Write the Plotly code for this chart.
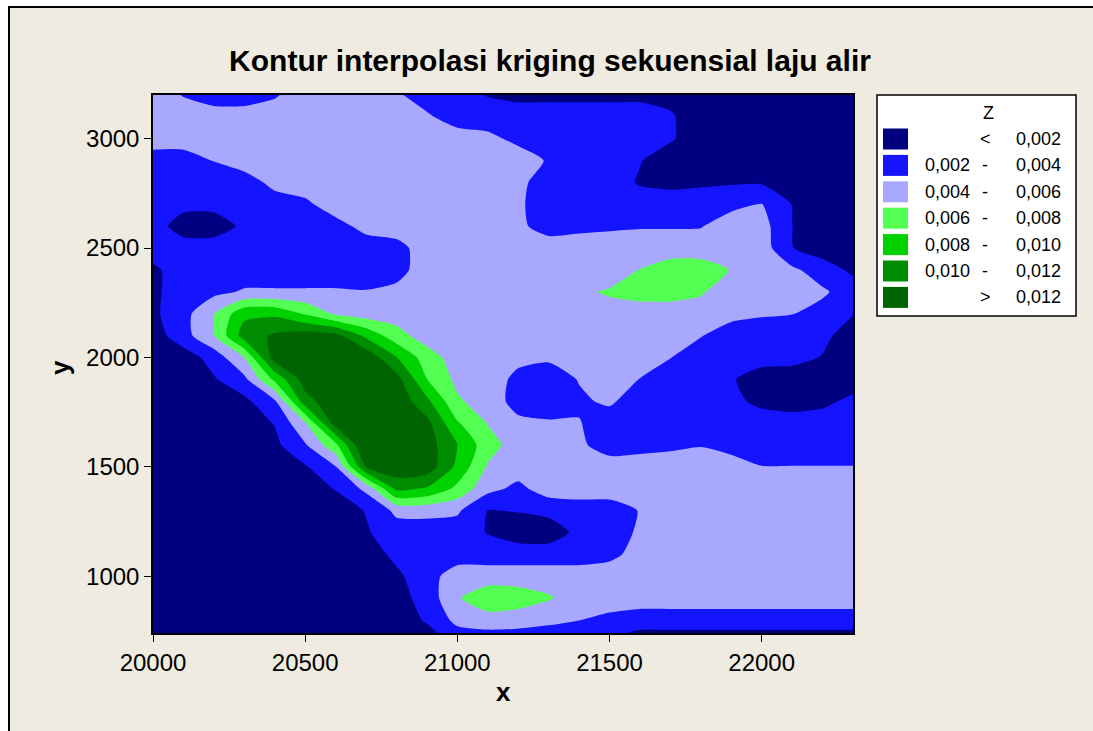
import plotly.graph_objects as go

# ---------------- data ----------------
x_grid = [20000, 20100, 20200, 20300, 20400, 20500, 20600, 20700, 20800, 20900, 21000, 21100,
          21200, 21300, 21400, 21500, 21600, 21700, 21800, 21900, 22000, 22100, 22200, 22300]
y_grid_top_down = [3200, 3100, 3000, 2900, 2800, 2700, 2600, 2500, 2400, 2300, 2200, 2100, 2000,
                   1900, 1800, 1700, 1600, 1500, 1400, 1300, 1200, 1100, 1000, 900, 800, 700]

# Z (flow rate) in units of 0.001, rows from top (y=3200) to bottom (y=700)
z_milli_top_down = [
    [5, 3.9, 3, 3, 3.8, 5, 5, 5, 4.3, 3, 2.8, 1.9, 1.5, 1.5, 1.5, 1.5, 1.5, 1.5, 1, 1, 1, 1, 1, 1],
    [5, 5, 5, 5, 5, 5, 5, 5, 5, 4.3, 3, 3, 3, 3, 3, 3, 3, 2.2, 1, 1, 1, 1, 1, 1],
    [5, 5, 5, 5, 5, 5, 5, 5, 5, 5, 5, 4.5, 3.5, 3, 3, 3, 3, 2.2, 1, 1, 1, 1, 1, 1],
    [3, 3, 4.05, 5, 5, 5, 5, 5, 5, 5, 5, 5, 5, 3.8, 3, 3, 2.1, 1, 1, 1, 1, 1, 1, 1],
    [3, 3, 3, 3, 4.6, 5, 5, 5, 5, 5, 5, 5, 4.5, 3, 3, 3, 1.8, 1.5, 1.7, 1.8, 1.8, 1.5, 1, 1],
    [3, 2.6, 2.6, 3, 3, 3.6, 5, 5, 5, 5, 5, 5, 4.3, 3, 3, 3, 3, 3, 3, 3.5, 4.1, 1.95, 1, 1],
    [3, 1, 1, 2.4, 3, 3, 3.3, 4.6, 5, 5, 5, 5, 4.4, 3.2, 3.5, 3.7, 3.85, 3.85, 3.9, 5, 4.8, 2.02, 1, 1],
    [3, 3, 3, 3, 3, 3, 3, 3, 3.3, 5, 5, 5, 5, 5, 5, 5, 5, 5, 5, 5, 5, 2.05, 1, 1],
    [1.6, 3, 3, 3, 3, 3, 3, 3, 3.3, 5, 5, 5, 5, 5, 5, 5, 6.05, 7, 7, 5.9, 5, 4.4, 3, 1.6],
    [1.6, 3, 3.5, 4.2, 4.2, 4.2, 4.2, 4.1, 4.5, 5, 5, 5, 5, 5, 5.7, 6.2, 6.4, 6.4, 6.2, 5, 5, 5, 4.3, 3],
    [1.6, 3.3, 5.9, 9.5, 9.6, 7.8, 5.7, 5, 5, 5, 5, 5, 5, 5, 5, 5.3, 5.5, 5.5, 5.2, 4.6, 4.2, 4.05, 3.3, 2.1],
    [1, 3.2, 5.9, 11, 12.3, 13, 12.6, 9.5, 6.8, 5, 5, 5, 5, 5, 5, 5, 5, 5, 4.1, 3, 3, 3, 2.5, 1],
    [1, 1, 2.8, 6.02, 13, 13.5, 13.5, 13.5, 10.05, 7, 5, 5, 4.5, 4.3, 5, 5, 5, 4.05, 3, 3, 2.8, 2.6, 1.9, 1],
    [1, 1, 1.8, 3.5, 8.5, 13, 13.5, 13.5, 12.8, 8.02, 5.5, 5, 3.5, 3, 4.1, 5, 3.95, 3, 3, 2.2, 1, 1, 1, 1],
    [1, 1, 1, 1.5, 3.7, 11.2, 13.5, 13.5, 13.5, 10.5, 6.3, 5, 3.3, 3, 3.7, 4.3, 3, 3, 3, 2.5, 1.5, 1, 1.5, 2.5],
    [1, 1, 1, 1, 2.1, 5.8, 13, 13.5, 13.5, 12.6, 8.2, 5.9, 4.4, 4.2, 4.1, 3, 3, 3, 3, 3, 3, 3, 3, 3],
    [1, 1, 1, 1, 1.5, 3.8, 7.5, 14.5, 13.5, 13, 10.05, 6.8, 5, 5, 4.4, 3, 3.3, 3.6, 3.9, 3.6, 3, 3, 3, 3],
    [1, 1, 1, 1, 1, 1.8, 3.9, 12.05, 13.5, 13.2, 9.5, 5.8, 5, 5, 5, 5, 5, 5, 5, 4.5, 4.05, 4.05, 4.05, 4.05],
    [1, 1, 1, 1, 1, 1, 2.1, 4.5, 10.5, 9.8, 7.5, 4.6, 3.5, 5, 5, 5, 5, 5, 5, 5, 5, 5, 5, 5],
    [1, 1, 1, 1, 1, 1, 1, 2.1, 4.5, 4.6, 4.3, 1.95, 2.1, 2.5, 3, 3, 4.1, 5, 5, 5, 5, 5, 5, 5],
    [1, 1, 1, 1, 1, 1, 1, 1.8, 3, 3, 3, 1.9, 1, 1, 2.5, 3, 4.3, 5, 5, 5, 5, 5, 5, 5],
    [1, 1, 1, 1, 1, 1, 1, 1, 2.5, 3, 3, 3, 3, 3, 3, 3.5, 4.7, 5, 5, 5, 5, 5, 5, 5],
    [1, 1, 1, 1, 1, 1, 1, 1, 1.6, 3.2, 5, 5, 5, 5, 5, 5, 5, 5, 5, 5, 5, 5, 5, 5],
    [1, 1, 1, 1, 1, 1, 1, 1, 1.2, 2.8, 5.8, 7.3, 7.0, 6.2, 5, 5, 5, 5, 5, 5, 5, 5, 5, 5],
    [1, 1, 1, 1, 1, 1, 1, 1, 1, 2.2, 4.6, 5.2, 5.0, 4.5, 4.05, 3.5, 3, 3, 3, 3, 3, 3, 3, 3],
    [1, 1, 1, 1, 1, 1, 1, 1, 1, 1, 2.5, 2.5, 2.5, 2.5, 2.5, 1.8, 0.8, 0.8, 0.8, 0.8, 0.8, 0.8, 0.8, 0.8],
]

levels = [0.002, 0.004, 0.006, 0.008, 0.010, 0.012]
level_labels = ["0,002", "0,004", "0,006", "0,008", "0,010", "0,012"]
band_colors = ["#000080", "#1414FF", "#A8A8FF", "#52FF52", "#00D200", "#008C00", "#006400"]
x_ticks = [20000, 20500, 21000, 21500, 22000]
y_ticks = [1000, 1500, 2000, 2500, 3000]

# ---------------- build ----------------
y_grid = y_grid_top_down[::-1]
z = [[v * 0.001 for v in row] for row in z_milli_top_down[::-1]]

n = len(band_colors)
colorscale = []
for k, c in enumerate(band_colors):
    lo = max(0.0, (k - 0.5) / (n - 1))
    hi = min(1.0, (k + 0.5) / (n - 1))
    colorscale.append([lo, c])
    colorscale.append([hi, c])

FONT = "Liberation Sans"
BEIGE = "#EFEBE1"

# plot area in pixels
L, R, T, B = 153, 853, 95, 633
W, H = 1093, 731


def px(xp):
    return (xp - L) / (R - L)


def py(yp):
    return (B - yp) / (B - T)


fig = go.Figure()
fig.add_trace(go.Contour(
    x=x_grid, y=y_grid, z=z,
    autocontour=False,
    contours=dict(start=levels[0], end=levels[-1], size=levels[1] - levels[0],
                  coloring="fill", showlines=False),
    line=dict(width=0, smoothing=0.6),
    colorscale=colorscale,
    showscale=False,
    hoverinfo="x+y+z",
))

shapes = []
annotations = []

# beige outer panel with black border (page outside is white)
shapes.append(dict(type="rect", xref="paper", yref="paper",
                   x0=px(9), x1=px(1400), y0=py(1000), y1=py(7),
                   fillcolor=BEIGE, line=dict(color="black", width=2), layer="below"))

# legend box
shapes.append(dict(type="rect", xref="paper", yref="paper",
                   x0=px(877), x1=px(1076), y0=py(316), y1=py(95),
                   fillcolor="white", line=dict(color="black", width=1.5), layer="above"))
annotations.append(dict(xref="paper", yref="paper", x=px(988), y=py(113), text="Z",
                        showarrow=False, xanchor="center", yanchor="middle",
                        font=dict(family=FONT, size=18, color="black")))

row_y0 = 139
row_dy = 26.4
for k, c in enumerate(band_colors):
    cy = row_y0 + k * row_dy
    shapes.append(dict(type="rect", xref="paper", yref="paper",
                       x0=px(883), x1=px(908), y0=py(cy + 10.5), y1=py(cy - 10.5),
                       fillcolor=c, line=dict(width=0), layer="above"))
    if k == 0:
        lo_txt, mid_txt, hi_txt = "", "<", level_labels[0]
    elif k == n - 1:
        lo_txt, mid_txt, hi_txt = "", ">", level_labels[-1]
    else:
        lo_txt, mid_txt, hi_txt = level_labels[k - 1], "-", level_labels[k]
    fnt = dict(family=FONT, size=18, color="black")
    if lo_txt:
        annotations.append(dict(xref="paper", yref="paper", x=px(923), y=py(cy), text=lo_txt,
                                showarrow=False, xanchor="left", yanchor="middle", font=fnt))
    annotations.append(dict(xref="paper", yref="paper", x=px(985), y=py(cy), text=mid_txt,
                            showarrow=False, xanchor="center", yanchor="middle", font=fnt))
    annotations.append(dict(xref="paper", yref="paper", x=px(1014), y=py(cy), text=hi_txt,
                            showarrow=False, xanchor="left", yanchor="middle", font=fnt))

# axis titles
annotations.append(dict(xref="paper", yref="paper", x=px(503), y=py(692), text="<b>x</b>",
                        showarrow=False, xanchor="center", yanchor="middle",
                        font=dict(family=FONT, size=26, color="black")))
annotations.append(dict(xref="paper", yref="paper", x=px(60), y=py(367), text="<b>y</b>",
                        showarrow=False, xanchor="center", yanchor="middle", textangle=-90,
                        font=dict(family=FONT, size=26, color="black")))

axis_common = dict(showgrid=False, zeroline=False, showline=True, linecolor="black",
                   linewidth=1.5, mirror=True, ticks="outside", ticklen=7, tickwidth=1.2,
                   tickcolor="black", tickfont=dict(family=FONT, size=24, color="black"))

fig.update_layout(
    width=W, height=H, autosize=False,
    margin=dict(l=L, r=W - R, t=T, b=H - B, pad=0),
    paper_bgcolor="white", plot_bgcolor=BEIGE,
    title=dict(text="<b>Kontur interpolasi kriging sekuensial laju alir</b>",
               xref="container", yref="container", x=550 / W, y=1 - 60 / H,
               xanchor="center", yanchor="middle",
               font=dict(family=FONT, size=30, color="black")),
    xaxis=dict(range=[x_grid[0], x_grid[-1]], tickvals=x_ticks,
               ticktext=[str(v) for v in x_ticks], **axis_common),
    yaxis=dict(range=[740, 3200], tickvals=y_ticks,
               ticktext=[str(v) for v in y_ticks], **axis_common),
    shapes=shapes, annotations=annotations, showlegend=False,
)

fig.write_html("out.html", config={"displayModeBar": False},
               post_script="document.body.style.margin='0px';document.body.style.overflow='hidden';")
